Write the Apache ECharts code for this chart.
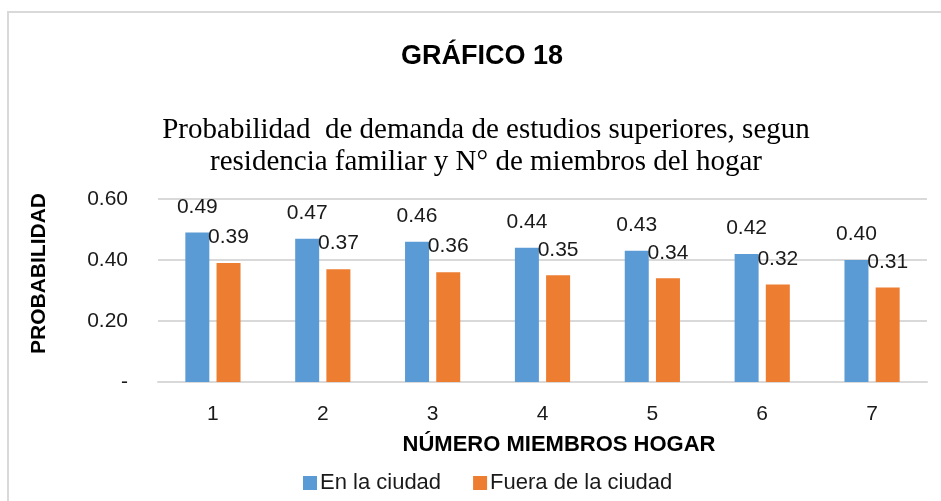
<!DOCTYPE html>
<html style="height: 100%">
<head>
<meta charset="utf-8">
<script src="https://cdn.jsdelivr.net/npm/echarts@6/dist/echarts.min.js"></script>
</head>
<body style="height: 100%; margin: 0; background: #fff">
<div id="container" style="box-sizing: border-box; border-left: 2px solid #d9d9d9; border-top: 2px solid #d9d9d9; margin-left: 7px; margin-top: 11px; width: 934px; height: 490px;"></div>
<script>
// datos
var miembros = ['1', '2', '3', '4', '5', '6', '7'];
var enCiudad = [0.49, 0.47, 0.46, 0.44, 0.43, 0.42, 0.40];
var fueraCiudad = [0.39, 0.37, 0.36, 0.35, 0.34, 0.32, 0.31];

var sans = '"Liberation Sans", Arial, sans-serif';

var dom = document.getElementById("container");
var myChart = echarts.init(dom);
var option = null;

var labelTop = {
	show : true,
	position : 'top',
	distance : 15,
	fontFamily : sans,
	fontSize : 21,
	color : '#1a1a1a',
	formatter : function(p) { return p.value.toFixed(2); }
};

option = {
	animation : false,
	title : [ {
		text : 'GRÁFICO 18',
		left : 468,
		top : 25,
		textAlign : 'center',
		textStyle : { fontFamily : sans, fontWeight : 'bold', fontSize : 27, color : '#000' }
	}, {
		text : 'Probabilidad  de demanda de estudios superiores, segun\nresidencia familiar y N° de miembros del hogar',
		left : 472,
		top : 96,
		textAlign : 'center',
		textStyle : { fontFamily : '"Liberation Serif", "Times New Roman", serif', fontWeight : 'normal', fontSize : 29, lineHeight : 32, color : '#000' }
	} ],
	legend : {
		bottom : 2,
		left : 289,
		itemWidth : 14,
		itemHeight : 14,
		itemGap : 32,
		icon : 'rect',
		textStyle : { fontFamily : sans, fontSize : 22, color : '#1a1a1a', padding : [0, 0, 0, -2] },
		data : [ 'En la ciudad', 'Fuera de la ciudad' ]
	},
	grid : {
		left : 149,
		right : 14,
		top : 186,
		bottom : 119
	},
	xAxis : {
		type : 'category',
		data : miembros,
		name : 'NÚMERO MIEMBROS HOGAR',
		nameLocation : 'middle',
		nameGap : 52,
		nameTextStyle : { fontFamily : sans, fontWeight : 'bold', fontSize : 22, color : '#000', padding : [0, 0, 0, 33] },
		axisLine : { lineStyle : { color : '#d9d9d9', width : 2 } },
		axisTick : { show : false },
		axisLabel : { fontFamily : sans, fontSize : 21, color : '#1a1a1a', margin : 22 }
	},
	yAxis : {
		type : 'value',
		min : 0,
		max : 0.6,
		interval : 0.2,
		name : 'PROBABILIDAD',
		nameLocation : 'middle',
		nameGap : 108,
		nameTextStyle : { fontFamily : sans, fontWeight : 'bold', fontSize : 21, color : '#000', padding : [0, 0, 0, 34] },
		axisLine : { show : false },
		axisTick : { show : false },
		splitLine : { lineStyle : { color : '#d9d9d9', width : 2 } },
		axisLabel : {
			fontFamily : sans, fontSize : 21, color : '#1a1a1a', margin : 30,
			formatter : function(v) {
				if (v === 0) return '-';
				return v.toFixed(2);
			}
		}
	},
	series : [ {
		name : 'En la ciudad',
		type : 'bar',
		barWidth : 24,
		barGap : '30%',
		itemStyle : { color : '#5b9bd5' },
		label : labelTop,
		data : enCiudad
	}, {
		name : 'Fuera de la ciudad',
		type : 'bar',
		barWidth : 24,
		barGap : '30%',
		itemStyle : { color : '#ed7d31' },
		label : labelTop,
		data : fueraCiudad
	} ]
};

if (option && typeof option === "object") {
	myChart.setOption(option, true);
}
</script>
</body>
</html>
